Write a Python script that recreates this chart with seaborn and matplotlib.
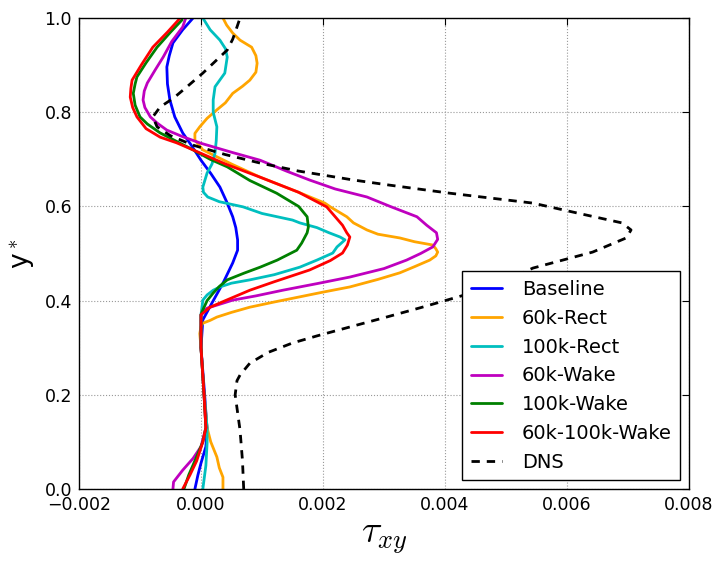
import numpy as np
import pandas as pd
import matplotlib
matplotlib.use("Agg")
import matplotlib.pyplot as plt
import seaborn as sns

series_names = ["Baseline", "60k-Rect", "100k-Rect", "60k-Wake", "100k-Wake", "60k-100k-Wake", "DNS"]

baseline_y = [0.0, 0.03, 0.055, 0.09, 0.125, 0.2, 0.3, 0.359, 0.395, 0.437, 0.48, 0.507, 0.529, 0.555, 0.578, 0.61, 0.641, 0.67, 0.698, 0.73, 0.756, 0.79, 0.826, 0.86, 0.896, 0.92, 0.947, 0.975, 1.0]
baseline_x = [-0.0001, -0.00005, 0.0, 0.00008, 0.0001, 0.00006, 0.0, 0.00003, 0.00018, 0.00036, 0.00052, 0.0006, 0.0006, 0.00057, 0.00052, 0.00042, 0.00031, 0.00016, 0.0, -0.00016, -0.0003, -0.00043, -0.00051, -0.00055, -0.00056, -0.00052, -0.00046, -0.0003, -0.00013]

rect60_y = [0.0, 0.025, 0.045, 0.068, 0.1, 0.13, 0.2, 0.3, 0.33, 0.345, 0.352, 0.358, 0.365, 0.375, 0.386, 0.397, 0.408, 0.418, 0.429, 0.445, 0.459, 0.472, 0.486, 0.495, 0.503, 0.51, 0.518, 0.525, 0.533, 0.541, 0.55, 0.565, 0.578, 0.599, 0.607, 0.63, 0.662, 0.69, 0.72, 0.741, 0.755, 0.769, 0.787, 0.805, 0.82, 0.84, 0.855, 0.868, 0.885, 0.904, 0.92, 0.938, 0.953, 0.968, 0.985, 1.0]
rect60_x = [0.00036, 0.00036, 0.0003, 0.00026, 0.00016, 0.0001, 0.00005, 0.0, -0.00002, 0.0, 0.00003, 0.00015, 0.00026, 0.0005, 0.0008, 0.0012, 0.00162, 0.002, 0.00244, 0.0029, 0.00326, 0.0035, 0.00375, 0.00385, 0.00388, 0.00385, 0.0038, 0.0035, 0.00326, 0.0029, 0.00272, 0.0025, 0.00239, 0.00212, 0.00203, 0.0016, 0.00097, 0.0005, 0.00003, -0.0001, -0.0001, -0.00002, 0.0001, 0.00026, 0.0004, 0.00052, 0.00068, 0.0008, 0.0009, 0.00092, 0.0009, 0.00083, 0.00064, 0.00052, 0.00042, 0.00036]

rect100_y = [0.0, 0.05, 0.098, 0.13, 0.2, 0.3, 0.37, 0.39, 0.401, 0.412, 0.422, 0.429, 0.437, 0.444, 0.455, 0.471, 0.486, 0.501, 0.514, 0.522, 0.529, 0.535, 0.544, 0.555, 0.565, 0.571, 0.585, 0.599, 0.61, 0.62, 0.63, 0.641, 0.671, 0.69, 0.713, 0.74, 0.769, 0.8, 0.826, 0.854, 0.883, 0.917, 0.935, 0.953, 0.975, 1.0]
rect100_x = [0.00003, 0.00008, 0.0001, 0.0001, 0.00005, 0.0, 0.0, 0.00002, 0.00003, 0.0001, 0.0002, 0.00031, 0.0005, 0.0008, 0.0012, 0.00162, 0.0019, 0.00216, 0.00223, 0.0023, 0.00236, 0.00228, 0.0021, 0.0019, 0.00162, 0.0015, 0.001, 0.00069, 0.0003, 0.00011, 0.00004, 0.00003, 0.0001, 0.00018, 0.00023, 0.00025, 0.00026, 0.0002, 0.0002, 0.00023, 0.00039, 0.00043, 0.0004, 0.00031, 0.00015, 0.00003]

wake60_y = [0.0, 0.015, 0.04, 0.065, 0.09, 0.13, 0.2, 0.3, 0.37, 0.384, 0.392, 0.401, 0.41, 0.422, 0.436, 0.45, 0.468, 0.486, 0.5, 0.514, 0.53, 0.544, 0.56, 0.578, 0.6, 0.62, 0.637, 0.656, 0.675, 0.698, 0.715, 0.734, 0.748, 0.762, 0.777, 0.79, 0.81, 0.826, 0.845, 0.862, 0.89, 0.917, 0.95, 0.981, 1.0]
wake60_x = [-0.00046, -0.00045, -0.0003, -0.00013, 0.0, 0.00008, 0.00005, 0.0, 0.0, 0.0001, 0.0003, 0.00052, 0.0009, 0.00134, 0.0019, 0.00244, 0.003, 0.00337, 0.0036, 0.0038, 0.00388, 0.00386, 0.0037, 0.00354, 0.0031, 0.00272, 0.0022, 0.00178, 0.0014, 0.00097, 0.0005, 0.0, -0.0003, -0.00056, -0.00072, -0.00083, -0.00092, -0.00095, -0.00093, -0.00088, -0.00075, -0.00062, -0.00048, -0.0003, -0.00025]

wake100_y = [0.0, 0.03, 0.06, 0.1, 0.13, 0.2, 0.3, 0.37, 0.38, 0.4, 0.416, 0.43, 0.444, 0.458, 0.471, 0.486, 0.507, 0.522, 0.544, 0.556, 0.578, 0.6, 0.628, 0.655, 0.684, 0.7, 0.72, 0.738, 0.756, 0.775, 0.79, 0.815, 0.84, 0.86, 0.875, 0.905, 0.938, 0.97, 0.996]
wake100_x = [-0.00028, -0.0002, -0.0001, 0.00003, 0.00008, 0.00005, 0.0, 0.0, 0.00003, 0.0001, 0.0002, 0.0003, 0.00043, 0.0007, 0.00097, 0.00125, 0.00157, 0.00165, 0.00174, 0.00176, 0.00174, 0.0016, 0.00124, 0.0008, 0.00043, 0.00015, -0.00013, -0.0004, -0.00067, -0.00088, -0.001, -0.00108, -0.00111, -0.00108, -0.00105, -0.0009, -0.00072, -0.0005, -0.00031]

wake60_100_y = [0.0, 0.03, 0.06, 0.1, 0.13, 0.2, 0.3, 0.37, 0.386, 0.4, 0.422, 0.44, 0.465, 0.485, 0.501, 0.518, 0.535, 0.544, 0.56, 0.578, 0.599, 0.63, 0.662, 0.69, 0.72, 0.735, 0.747, 0.765, 0.79, 0.81, 0.832, 0.85, 0.868, 0.9, 0.938, 0.97, 1.0]
wake60_100_x = [-0.0003, -0.00018, -0.00007, 0.00003, 0.00008, 0.00005, 0.0, 0.0, 0.00015, 0.0004, 0.0008, 0.0012, 0.00178, 0.00212, 0.00232, 0.0024, 0.00244, 0.00239, 0.00232, 0.0022, 0.00206, 0.0016, 0.00097, 0.0004, -0.00013, -0.0004, -0.00067, -0.0009, -0.00105, -0.00112, -0.00116, -0.00115, -0.00113, -0.00098, -0.00079, -0.00055, -0.00034]

dns_y = [0.0, 0.06, 0.125, 0.2, 0.23, 0.242, 0.267, 0.29, 0.31, 0.325, 0.344, 0.365, 0.385, 0.401, 0.43, 0.469, 0.503, 0.533, 0.55, 0.565, 0.585, 0.607, 0.628, 0.645, 0.656, 0.675, 0.692, 0.71, 0.73, 0.75, 0.769, 0.79, 0.811, 0.83, 0.854, 0.883, 0.91, 0.932, 0.955, 0.981, 1.0]
dns_x = [0.0007, 0.00068, 0.00064, 0.00056, 0.00059, 0.00064, 0.0008, 0.0011, 0.0015, 0.0019, 0.00244, 0.00304, 0.0036, 0.00403, 0.0048, 0.00544, 0.00642, 0.00697, 0.00705, 0.0069, 0.0062, 0.00544, 0.00408, 0.0031, 0.0025, 0.0016, 0.00097, 0.0004, -0.00013, -0.0005, -0.00072, -0.00079, -0.00067, -0.00045, -0.00023, 0.00003, 0.00025, 0.00043, 0.00052, 0.00059, 0.00064]

x_ticks = [-0.002, 0.000, 0.002, 0.004, 0.006, 0.008]
y_ticks = [0.0, 0.2, 0.4, 0.6, 0.8, 1.0]

series_data = [
    (baseline_x, baseline_y),
    (rect60_x, rect60_y),
    (rect100_x, rect100_y),
    (wake60_x, wake60_y),
    (wake100_x, wake100_y),
    (wake60_100_x, wake60_100_y),
    (dns_x, dns_y),
]

frames = []
for name, (xs, ys) in zip(series_names, series_data):
    frames.append(pd.DataFrame({"tau": xs, "y": ys, "case": name}))
df = pd.concat(frames, ignore_index=True)

palette = {
    "Baseline": (0, 0, 1),
    "60k-Rect": "#FFA500",
    "100k-Rect": (0, 0.75, 0.75),
    "60k-Wake": (0.75, 0, 0.75),
    "100k-Wake": (0, 0.5, 0),
    "60k-100k-Wake": (1, 0, 0),
    "DNS": (0, 0, 0),
}
dashes = {n: "" for n in series_names}
dashes["DNS"] = (3, 2.5)

sns.set_style("white")
plt.rcParams["font.family"] = ["DejaVu Sans"]
plt.rcParams["mathtext.fontset"] = "cm"
plt.rcParams["text.color"] = "black"
plt.rcParams["axes.labelcolor"] = "black"
plt.rcParams["xtick.color"] = "black"
plt.rcParams["ytick.color"] = "black"

fig = plt.figure(figsize=(7.19, 5.66), dpi=100)
ax = fig.add_axes([79 / 719, 1 - 489 / 566, (689 - 79) / 719, (489 - 18) / 566])

sns.lineplot(data=df, x="tau", y="y", hue="case", style="case",
             hue_order=series_names, style_order=series_names,
             palette=palette, dashes=dashes, estimator=None, orient="y",
             sort=True, linewidth=2, ax=ax)

ax.set_xlim(-0.002, 0.008)
ax.set_ylim(0.0, 1.0)
ax.set_xticks(x_ticks)
ax.set_yticks(y_ticks)
ax.set_xticklabels([f"{t:.3f}".replace("-", "\u2212") for t in x_ticks])
ax.set_yticklabels([f"{t:.1f}" for t in y_ticks])
ax.tick_params(direction="in", length=5, width=0.8, top=True, right=True,
               labelsize=12.5, colors="black", pad=5)
ax.grid(True, linestyle=":", color="0.6", linewidth=0.8)
for s in ax.spines.values():
    s.set_color("black")
    s.set_linewidth(1.0)

ax.set_xlabel(r"$\tau_{xy}$", fontsize=27, labelpad=4, color="black")
ax.set_ylabel(r"y$^*$", fontsize=19, labelpad=5, color="black")

leg = ax.legend(loc="lower right", fontsize=14, frameon=True, fancybox=False,
                framealpha=1, edgecolor="black", borderaxespad=0.45,
                handlelength=1.6, handletextpad=1.0, labelspacing=0.5,
                borderpad=0.45)
leg.get_frame().set_linewidth(1.0)
for line in leg.get_lines():
    line.set_linewidth(2)
for txt in leg.get_texts():
    txt.set_color("black")

fig.savefig("out.png", dpi=100)
